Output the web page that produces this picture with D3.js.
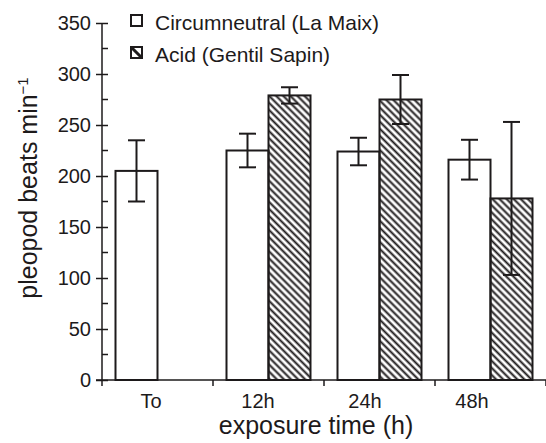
<!DOCTYPE html>
<html lang="en">
<head>
<meta charset="utf-8">
<title>pleopod beats</title>
<script src="https://cdn.jsdelivr.net/npm/d3@7"></script>
<style>
  body { margin: 0; background: #fff; }
  svg { font-family: "Liberation Sans", Arial, sans-serif; }
  text { fill: #1d1a1b; }
</style>
</head>
<body>
<div id="chart"></div>
<script>
// data
var categories = ["To", "12h", "24h", "48h"];
var circumMean = [205, 225, 224, 216];
var circumErr = [30, 16.5, 13.5, 19.5];
var acidMean = [null, 279, 275, 178];
var acidErr = [null, 8, 24, 75];
var yTicks = [0, 50, 100, 150, 200, 250, 300, 350];
var yMinor = [25, 75, 125, 175, 225, 275, 325];
var seriesNames = ["Circumneutral (La Maix)", "Acid (Gentil Sapin)"];

var w = 546, h = 443;
var ink = "#1d1a1b";

var svg = d3.select("#chart").append("svg")
  .attr("width", w)
  .attr("height", h);

// hatch for the acid bars
var defs = svg.append("defs");
defs.append("pattern")
  .attr("id", "hatch")
  .attr("patternUnits", "userSpaceOnUse")
  .attr("width", 5).attr("height", 5)
  .attr("patternTransform", "rotate(45)")
  .append("line")
  .attr("x1", 0).attr("y1", 2.5).attr("x2", 5).attr("y2", 2.5)
  .attr("stroke", ink).attr("stroke-width", 2);

var y = d3.scaleLinear().domain([0, 350]).range([380, 23]);
var x = d3.scaleBand().domain(categories).range([102, 546]);
var xLabel = d3.scalePoint().domain(categories).range([151, 472]);
var barW = 42;

// bars
var rows = categories.map(function(c, i) {
  return {cat: c, cm: circumMean[i], ce: circumErr[i], am: acidMean[i], ae: acidErr[i]};
});

var g = svg.append("g");

g.selectAll("rect.circ")
  .data(rows)
  .enter().append("rect")
  .attr("class", "circ")
  .attr("x", function(d) { return x(d.cat) + x.bandwidth() / 2 - barW; })
  .attr("y", function(d) { return y(d.cm); })
  .attr("width", barW)
  .attr("height", function(d) { return y(0) - y(d.cm); })
  .attr("fill", "#fff")
  .attr("stroke", ink).attr("stroke-width", 2);

var acidRows = rows.filter(function(d) { return d.am != null; });

g.selectAll("rect.acid")
  .data(acidRows)
  .enter().append("rect")
  .attr("class", "acid")
  .attr("x", function(d) { return x(d.cat) + x.bandwidth() / 2; })
  .attr("y", function(d) { return y(d.am); })
  .attr("width", barW)
  .attr("height", function(d) { return y(0) - y(d.am); })
  .attr("fill", "url(#hatch)")
  .attr("stroke", ink).attr("stroke-width", 2);

// error bars
var errs = [];
rows.forEach(function(d) {
  errs.push({cx: x(d.cat) + x.bandwidth() / 2 - barW / 2, m: d.cm, e: d.ce});
  if (d.am != null) errs.push({cx: x(d.cat) + x.bandwidth() / 2 + barW / 2, m: d.am, e: d.ae});
});

var eb = g.selectAll("g.err").data(errs).enter().append("g")
  .attr("stroke", ink).attr("stroke-width", 2);
eb.append("line")
  .attr("x1", function(d) { return d.cx; }).attr("x2", function(d) { return d.cx; })
  .attr("y1", function(d) { return y(d.m + d.e); })
  .attr("y2", function(d) { return y(d.m - d.e); });
eb.append("line")
  .attr("x1", function(d) { return d.cx - 8.5; }).attr("x2", function(d) { return d.cx + 8.5; })
  .attr("y1", function(d) { return y(d.m + d.e); })
  .attr("y2", function(d) { return y(d.m + d.e); });
eb.append("line")
  .attr("x1", function(d) { return d.cx - 8.5; }).attr("x2", function(d) { return d.cx + 8.5; })
  .attr("y1", function(d) { return y(d.m - d.e); })
  .attr("y2", function(d) { return y(d.m - d.e); });

// y axis
var ya = svg.append("g")
  .attr("transform", "translate(102,0)")
  .call(d3.axisLeft(y).tickValues(yTicks).tickSize(6).tickPadding(5));
ya.select(".domain").remove();
ya.selectAll(".tick line").attr("x1", 6).attr("x2", -6)
  .attr("stroke", ink).attr("stroke-width", 1.5);
ya.selectAll(".tick text")
  .style("font-size", "20px")
  .attr("fill", ink)
  .attr("font-family", "Liberation Sans, Arial, sans-serif");
ya.append("line")
  .attr("x1", 0).attr("x2", 0)
  .attr("y1", y(350)).attr("y2", y(0) + 6)
  .attr("stroke", ink).attr("stroke-width", 1.5);
ya.selectAll("line.minor")
  .data(yMinor)
  .enter().append("line")
  .attr("class", "minor")
  .attr("x1", 0).attr("x2", 6)
  .attr("y1", function(d) { return y(d); })
  .attr("y2", function(d) { return y(d); })
  .attr("stroke", ink).attr("stroke-width", 1.5);

// x axis
var xa = svg.append("g");
xa.append("line")
  .attr("x1", 96).attr("x2", x.range()[1])
  .attr("y1", y(0)).attr("y2", y(0))
  .attr("stroke", ink).attr("stroke-width", 1.5);
var bounds = categories.map(function(c) { return x(c) + x.bandwidth(); });
xa.selectAll("line.tk")
  .data(bounds)
  .enter().append("line")
  .attr("class", "tk")
  .attr("x1", function(d) { return d; }).attr("x2", function(d) { return d; })
  .attr("y1", y(0)).attr("y2", y(0) + 6)
  .attr("stroke", ink).attr("stroke-width", 1.5);
xa.selectAll("text")
  .data(categories)
  .enter().append("text")
  .attr("x", function(d) { return xLabel(d); })
  .attr("y", 408)
  .attr("text-anchor", "middle")
  .style("font-size", "20px")
  .text(function(d) { return d; });

// axis titles
svg.append("text")
  .attr("x", 316).attr("y", 434)
  .attr("text-anchor", "middle")
  .style("font-size", "25px")
  .text("exposure time (h)");

var yt = svg.append("text")
  .attr("transform", "translate(37,188) rotate(-90)")
  .attr("text-anchor", "middle")
  .style("font-size", "25px");
yt.append("tspan").text("pleopod beats min");
yt.append("tspan").attr("dy", -9).style("font-size", "15px").text("\u22121");

// legend
var leg = svg.append("g");
var legY = [15, 47];
leg.selectAll("rect")
  .data(seriesNames)
  .enter().append("rect")
  .attr("x", 131)
  .attr("y", function(d, i) { return legY[i]; })
  .attr("width", 11).attr("height", 11)
  .attr("fill", "#fff")
  .attr("stroke", ink).attr("stroke-width", 2);
leg.append("line")
  .attr("x1", 131).attr("y1", legY[1])
  .attr("x2", 142).attr("y2", legY[1] + 11)
  .attr("stroke", ink).attr("stroke-width", 3);
leg.selectAll("text")
  .data(seriesNames)
  .enter().append("text")
  .attr("x", 155)
  .attr("y", function(d, i) { return legY[i] + 15; })
  .style("font-size", "21px")
  .text(function(d) { return d; });
</script>
</body>
</html>
